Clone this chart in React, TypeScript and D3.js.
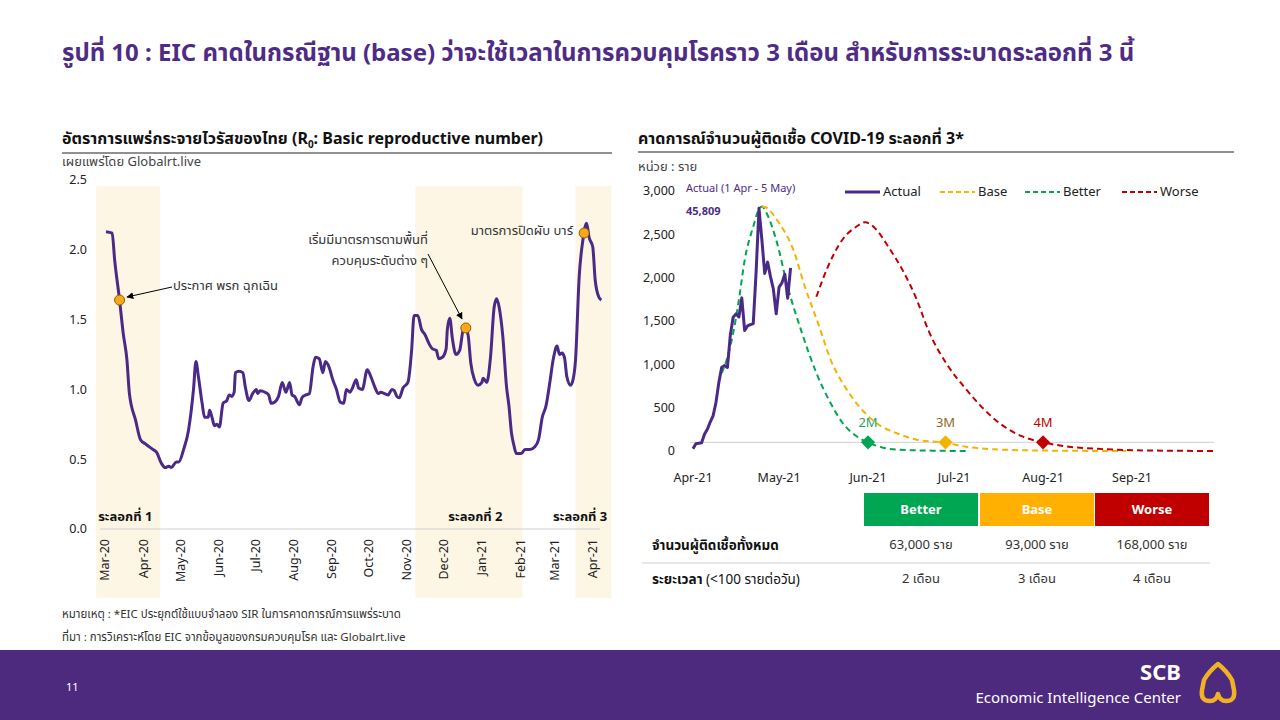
import React from "react";
import * as d3 from "d3";

// ---- data ----
const rtSeries: [string, number][] = [
  ["2020-03-01", 2.13], ["2020-03-06", 2.12], ["2020-03-08", 1.93], ["2020-03-12", 1.64], ["2020-03-15", 1.4],
  ["2020-03-18", 1.21], ["2020-03-20", 0.97], ["2020-03-25", 0.78], ["2020-03-29", 0.64], ["2020-04-02", 0.61],
  ["2020-04-08", 0.57], ["2020-04-11", 0.55], ["2020-04-15", 0.47], ["2020-04-18", 0.44], ["2020-04-21", 0.45],
  ["2020-04-23", 0.44], ["2020-04-27", 0.48], ["2020-04-29", 0.48], ["2020-05-03", 0.57], ["2020-05-07", 0.71],
  ["2020-05-11", 1.0], ["2020-05-13", 1.2], ["2020-05-15", 1.09], ["2020-05-18", 0.9], ["2020-05-20", 0.8],
  ["2020-05-23", 0.8], ["2020-05-24", 0.85], ["2020-05-26", 0.8], ["2020-05-28", 0.74], ["2020-05-30", 0.75],
  ["2020-06-01", 0.73], ["2020-06-04", 0.9], ["2020-06-07", 0.92], ["2020-06-09", 0.96], ["2020-06-11", 0.95],
  ["2020-06-13", 0.98], ["2020-06-14", 1.12], ["2020-06-17", 1.13], ["2020-06-20", 1.12], ["2020-06-22", 1.02],
  ["2020-06-25", 0.92], ["2020-06-28", 0.97], ["2020-07-01", 1.0], ["2020-07-02", 0.97], ["2020-07-04", 0.99],
  ["2020-07-08", 0.98], ["2020-07-11", 0.96], ["2020-07-13", 0.9], ["2020-07-16", 0.91], ["2020-07-19", 0.95],
  ["2020-07-22", 1.05], ["2020-07-25", 0.98], ["2020-07-28", 1.05], ["2020-07-30", 0.96], ["2020-08-01", 0.95],
  ["2020-08-05", 0.89], ["2020-08-07", 0.94], ["2020-08-10", 0.96], ["2020-08-13", 0.97], ["2020-08-16", 1.16],
  ["2020-08-18", 1.23], ["2020-08-21", 1.22], ["2020-08-24", 1.12], ["2020-08-26", 1.2], ["2020-08-29", 1.16],
  ["2020-09-01", 1.07], ["2020-09-04", 1.0], ["2020-09-07", 0.91], ["2020-09-10", 0.9], ["2020-09-12", 1.0],
  ["2020-09-15", 0.98], ["2020-09-17", 1.01], ["2020-09-20", 1.07], ["2020-09-22", 1.01], ["2020-09-25", 1.0],
  ["2020-09-29", 1.14], ["2020-10-02", 1.09], ["2020-10-05", 1.02], ["2020-10-08", 0.97], ["2020-10-10", 0.98],
  ["2020-10-13", 0.97], ["2020-10-16", 0.96], ["2020-10-19", 1.0], ["2020-10-21", 0.99], ["2020-10-23", 0.95],
  ["2020-10-25", 0.94], ["2020-10-28", 1.01], ["2020-11-01", 1.05], ["2020-11-04", 1.28], ["2020-11-06", 1.53],
  ["2020-11-09", 1.53], ["2020-11-12", 1.43], ["2020-11-15", 1.39], ["2020-11-18", 1.33], ["2020-11-21", 1.29],
  ["2020-11-24", 1.28], ["2020-11-26", 1.22], ["2020-11-29", 1.23], ["2020-12-02", 1.29], ["2020-12-03", 1.43],
  ["2020-12-05", 1.51], ["2020-12-07", 1.37], ["2020-12-10", 1.25], ["2020-12-13", 1.28], ["2020-12-16", 1.43],
  ["2020-12-18", 1.44], ["2020-12-20", 1.38], ["2020-12-22", 1.19], ["2020-12-25", 1.07], ["2020-12-28", 1.03],
  ["2020-12-31", 1.05], ["2021-01-01", 1.08], ["2021-01-04", 1.05], ["2021-01-07", 1.23], ["2021-01-10", 1.59],
  ["2021-01-12", 1.65], ["2021-01-14", 1.59], ["2021-01-17", 1.38], ["2021-01-20", 1.02], ["2021-01-22", 0.88],
  ["2021-01-24", 0.69], ["2021-01-26", 0.6], ["2021-01-28", 0.54], ["2021-02-01", 0.54], ["2021-02-04", 0.57],
  ["2021-02-08", 0.57], ["2021-02-12", 0.59], ["2021-02-15", 0.64], ["2021-02-18", 0.8], ["2021-02-21", 0.88],
  ["2021-02-24", 1.04], ["2021-02-27", 1.22], ["2021-03-02", 1.31], ["2021-03-04", 1.25], ["2021-03-06", 1.26],
  ["2021-03-08", 1.23], ["2021-03-10", 1.09], ["2021-03-13", 1.03], ["2021-03-15", 1.07], ["2021-03-17", 1.21],
  ["2021-03-20", 1.81], ["2021-03-23", 2.07], ["2021-03-26", 2.19], ["2021-03-28", 2.09], ["2021-03-31", 2.02],
  ["2021-04-02", 1.78], ["2021-04-05", 1.66], ["2021-04-07", 1.64],
];
const rtTicks = [0, 0.5, 1.0, 1.5, 2.0, 2.5];
const waveStarts = ["2020-02-22", "2020-11-07", "2021-03-17"];
const waveEnds = ["2020-04-14", "2021-02-02", "2021-04-15"];
const waveLabels = ["ระลอกที่ 1", "ระลอกที่ 2", "ระลอกที่ 3"];
const eventDates = ["2020-03-12", "2020-12-18", "2021-03-24"];
const eventValues = [1.64, 1.44, 2.12];

const actualDates = [
  "2021-04-01", "2021-04-02", "2021-04-03", "2021-04-04", "2021-04-05", "2021-04-06", "2021-04-07",
  "2021-04-08", "2021-04-09", "2021-04-10", "2021-04-11", "2021-04-12", "2021-04-13", "2021-04-14",
  "2021-04-15", "2021-04-16", "2021-04-17", "2021-04-18", "2021-04-19", "2021-04-20", "2021-04-21",
  "2021-04-22", "2021-04-23", "2021-04-24", "2021-04-25", "2021-04-26", "2021-04-27", "2021-04-28",
  "2021-04-29", "2021-04-30", "2021-05-01", "2021-05-02", "2021-05-03", "2021-05-04", "2021-05-05",
];
const actualValues = [
  26, 84, 89, 96, 194, 250, 334, 405, 559, 789, 967, 985, 965, 1335, 1543, 1582, 1547, 1767, 1390, 1443, 1458,
  1470, 2070, 2800, 2438, 2048, 2179, 2012, 1871, 1583, 1891, 1940, 2041, 1763, 2112,
];
const betterSeries: [string, number][] = [
  ["2021-04-11", 900], ["2021-04-13", 1080], ["2021-04-15", 1360], ["2021-04-17", 1745], ["2021-04-19", 2200],
  ["2021-04-22", 2590], ["2021-04-24", 2790], ["2021-04-25", 2820], ["2021-04-27", 2720], ["2021-04-30", 2435],
  ["2021-05-04", 1895], ["2021-05-09", 1360], ["2021-05-14", 900], ["2021-05-19", 550], ["2021-05-23", 330],
  ["2021-05-28", 170], ["2021-06-01", 100], ["2021-06-06", 40], ["2021-06-12", 15], ["2021-06-25", 3],
  ["2021-07-06", 0],
];
const baseSeries: [string, number][] = [
  ["2021-04-25", 2820], ["2021-04-26", 2815], ["2021-05-01", 2630], ["2021-05-06", 2320], ["2021-05-10", 1895],
  ["2021-05-15", 1435], ["2021-05-19", 1050], ["2021-05-24", 740], ["2021-05-29", 510], ["2021-06-04", 320],
  ["2021-06-11", 205], ["2021-06-18", 130], ["2021-06-28", 95], ["2021-07-05", 50], ["2021-07-15", 20],
  ["2021-08-01", 5], ["2021-08-30", 0],
];
const worseSeries: [string, number][] = [
  ["2021-05-14", 1780], ["2021-05-18", 2125], ["2021-05-23", 2435], ["2021-05-28", 2590], ["2021-05-31", 2640],
  ["2021-06-04", 2550], ["2021-06-08", 2360], ["2021-06-13", 2090], ["2021-06-18", 1745], ["2021-06-22", 1395],
  ["2021-06-29", 975], ["2021-07-05", 720], ["2021-07-10", 530], ["2021-07-15", 370], ["2021-07-20", 250],
  ["2021-07-25", 165], ["2021-08-01", 100], ["2021-08-10", 50], ["2021-08-20", 25], ["2021-09-01", 10],
  ["2021-09-15", 3], ["2021-09-30", 0],
];
const caseTicks = [0, 500, 1000, 1500, 2000, 2500, 3000];
const scenarioNames = ["Better", "Base", "Worse"];
const milestoneDates = ["2021-06-01", "2021-06-28", "2021-08-01"];
const milestoneValue = 100;
const milestoneLabels = ["2M", "3M", "4M"];
const totalCases = ["63,000 ราย", "93,000 ราย", "168,000 ราย"];
const durations = ["2 เดือน", "3 เดือน", "4 เดือน"];
const actualTotal = "45,809";

// ---- styles ----
const FONT = "'Noto Sans', 'Noto Sans Thai', Tahoma, sans-serif";
const PURPLE = "#4E2C85";
const LINE_PURPLE = "#4B2A87";
const ORANGE = "#F7A81B";
const GREEN = "#00A651";
const BASE_C = "#F5B301";
const RED = "#C00000";
const SHADE = "#FDF6E4";

const parse = d3.timeParse("%Y-%m-%d");
const fmtMonth = d3.timeFormat("%b-%y");

export default function App() {
  // left chart scales
  const xL = d3.scaleTime().domain([parse("2020-03-01")!, parse("2021-04-01")!]).range([106, 594]);
  const yL = d3.scaleLinear().domain([0, 2.5]).range([529, 180]);
  const rtLine = d3
    .line<[string, number]>()
    .x((d) => xL(parse(d[0])!))
    .y((d) => yL(d[1]))
    .curve(d3.curveMonotoneX);
  const monthsL = xL.ticks(d3.timeMonth.every(1)!);

  // right chart scales
  const xR = d3.scaleTime().domain([parse("2021-04-01")!, parse("2021-09-01")!]).range([693, 1132]);
  const yR = d3.scaleLinear().domain([0, 3000]).range([451, 191]);
  const fcLine = d3
    .line<[string, number]>()
    .x((d) => xR(parse(d[0])!))
    .y((d) => yR(d[1]))
    .curve(d3.curveMonotoneX);
  const actLine = d3
    .line<number>()
    .x((_, i) => xR(parse(actualDates[i])!))
    .y((d) => yR(d));
  const monthsR = xR.ticks(d3.timeMonth.every(1)!);
  const scenarioColors = [GREEN, BASE_C, RED];
  const labelColors = ["#2E9E6B", "#8C6A1C", RED];
  const series = [betterSeries, baseSeries, worseSeries];

  const bandTop = 186;
  const bandBottom = 598;

  // table geometry
  const colX = [864, 980, 1095];
  const colW = 114;

  const legend = [
    { name: "Actual", color: LINE_PURPLE, dash: "", x: 845 },
    { name: scenarioNames[1], color: BASE_C, dash: "5,3", x: 940 },
    { name: scenarioNames[0], color: GREEN, dash: "5,3", x: 1025 },
    { name: scenarioNames[2], color: RED, dash: "5,3", x: 1122 },
  ];

  return (
    <div style={{ position: "absolute", left: 0, top: 0 }}>
      <svg width={1280} height={720} style={{ display: "block", background: "#fff", fontFamily: FONT }}>
        <defs>
          <marker id="arr" viewBox="0 0 10 10" refX="9" refY="5" markerWidth="7" markerHeight="7" orient="auto">
            <path d="M0,0 L10,5 L0,10 z" fill="#000" />
          </marker>
        </defs>

        {/* title */}
        <text x={62} y={61} fontSize={24} fontWeight="bold" fill={PURPLE}>
          รูปที่ 10 : EIC คาดในกรณีฐาน (base) ว่าจะใช้เวลาในการควบคุมโรคราว 3 เดือน สำหรับการระบาดระลอกที่ 3 นี้
        </text>

        {/* ---------- left chart ---------- */}
        <text x={62} y={144} fontSize={16} fontWeight="bold" fill="#111">
          อัตราการแพร่กระจายไวรัสของไทย (R
          <tspan fontSize={10} dy={4}>0</tspan>
          <tspan dy={-4}>: Basic reproductive number)</tspan>
        </text>
        <line x1={62} x2={612} y1={153} y2={153} stroke="#222" strokeWidth={1} />
        <text x={62} y={166} fontSize={13} fill="#444">
          เผยแพร่โดย Globalrt.live
        </text>

        {waveStarts.map((s, i) => (
          <rect
            key={"band" + i}
            x={xL(parse(s)!)}
            y={bandTop}
            width={xL(parse(waveEnds[i])!) - xL(parse(s)!)}
            height={bandBottom - bandTop}
            fill={SHADE}
          />
        ))}

        {rtTicks.map((t) => (
          <text key={"yl" + t} x={87} y={yL(t) + 1} fontSize={12.5} textAnchor="end" dominantBaseline="middle" fill="#222">
            {d3.format(".1f")(t)}
          </text>
        ))}
        <line x1={100} x2={600} y1={yL(0)} y2={yL(0)} stroke="#d0d0d0" strokeWidth={1} />

        {monthsL.map((m, i) => (
          <text
            key={"xl" + i}
            transform={`translate(${xL(m)},${539}) rotate(-90)`}
            fontSize={12.5}
            textAnchor="end"
            dominantBaseline="middle"
            fill="#222"
          >
            {fmtMonth(m)}
          </text>
        ))}

        {waveLabels.map((w, i) => {
          const x0 = xL(parse(waveStarts[i])!);
          const x1 = xL(parse(waveEnds[i])!);
          const isFirst = i === 0;
          return (
            <text
              key={"wl" + i}
              x={isFirst ? x0 + 2 : i === 1 ? x1 - 20 : x1 - 4}
              y={521}
              fontSize={13}
              fontWeight="bold"
              textAnchor={isFirst ? "start" : "end"}
              fill="#111"
            >
              {w}
            </text>
          );
        })}

        <path d={rtLine(rtSeries) || ""} fill="none" stroke={LINE_PURPLE} strokeWidth={3} strokeLinejoin="round" />

        {/* annotations */}
        <line x1={172} y1={287} x2={127} y2={297} stroke="#000" strokeWidth={1} markerEnd="url(#arr)" />
        <text x={173} y={290} fontSize={13} fill="#333">ประกาศ พรก ฉุกเฉิน</text>
        <text x={428} y={244} fontSize={13} fill="#333" textAnchor="end">เริ่มมีมาตรการตามพื้นที่</text>
        <text x={428} y={265} fontSize={13} fill="#333" textAnchor="end">ควบคุมระดับต่าง ๆ</text>
        <line x1={428} y1={254} x2={462} y2={319} stroke="#000" strokeWidth={1} markerEnd="url(#arr)" />
        <text x={573} y={235} fontSize={13} fill="#333" textAnchor="end">มาตรการปิดผับ บาร์</text>

        {eventDates.map((d, i) => (
          <circle
            key={"ev" + i}
            cx={xL(parse(d)!)}
            cy={yL(eventValues[i])}
            r={5}
            fill={ORANGE}
            stroke="#9a5b00"
            strokeWidth={1}
          />
        ))}

        {/* ---------- right chart ---------- */}
        <text x={638} y={144} fontSize={16} fontWeight="bold" fill="#111">
          คาดการณ์จำนวนผู้ติดเชื้อ COVID-19 ระลอกที่ 3*
        </text>
        <line x1={638} x2={1234} y1={152} y2={152} stroke="#222" strokeWidth={1} />
        <text x={638} y={171} fontSize={13} fill="#444">
          หน่วย : ราย
        </text>

        {caseTicks.map((t) => (
          <text key={"yr" + t} x={675} y={yR(t) + 1} fontSize={12.5} textAnchor="end" dominantBaseline="middle" fill="#222">
            {d3.format(",")(t)}
          </text>
        ))}
        <line x1={690} x2={1214} y1={yR(milestoneValue)} y2={yR(milestoneValue)} stroke="#cfcfcf" strokeWidth={1} />

        {monthsR.map((m, i) => (
          <text key={"xr" + i} x={xR(m)} y={482} fontSize={12.5} textAnchor="middle" fill="#222">
            {fmtMonth(m)}
          </text>
        ))}

        {series.map((s, i) => (
          <path
            key={"fc" + i}
            d={fcLine(s) || ""}
            fill="none"
            stroke={scenarioColors[i]}
            strokeWidth={2}
            strokeDasharray="6,4"
          />
        ))}
        <path d={actLine(actualValues) || ""} fill="none" stroke={LINE_PURPLE} strokeWidth={3} strokeLinejoin="round" />

        {milestoneDates.map((d, i) => {
          const cx = xR(parse(d)!);
          const cy = yR(milestoneValue);
          return (
            <g key={"ms" + i}>
              <rect x={cx - 5} y={cy - 5} width={10} height={10} fill={scenarioColors[i]} transform={`rotate(45 ${cx} ${cy})`} />
              <text x={cx} y={cy - 15} fontSize={13} textAnchor="middle" fill={labelColors[i]}>
                {milestoneLabels[i]}
              </text>
            </g>
          );
        })}

        <text x={686} y={192} fontSize={11} fill={PURPLE}>Actual (1 Apr - 5 May)</text>
        <text x={686} y={215} fontSize={11} fontWeight="bold" fill={PURPLE}>{actualTotal}</text>

        {/* legend */}
        {legend.map((l) => (
          <g key={"lg" + l.name}>
            <line x1={l.x} x2={l.x + 35} y1={192} y2={192} stroke={l.color} strokeWidth={l.dash ? 2 : 3} strokeDasharray={l.dash} />
            <text x={l.x + 38} y={193} fontSize={13} dominantBaseline="middle" fill="#222">{l.name}</text>
          </g>
        ))}

        {/* table */}
        {scenarioNames.map((n, i) => (
          <g key={"th" + i}>
            <rect x={colX[i]} y={493} width={colW} height={33} fill={i === 1 ? "#FFB000" : scenarioColors[i]} />
            <text x={colX[i] + colW / 2} y={510} fontSize={13} fontWeight="bold" fill="#fff" textAnchor="middle" dominantBaseline="middle">
              {n}
            </text>
            <text x={colX[i] + colW / 2} y={546} fontSize={13} fill="#333" textAnchor="middle" dominantBaseline="middle">
              {totalCases[i]}
            </text>
            <text x={colX[i] + colW / 2} y={580} fontSize={13} fill="#333" textAnchor="middle" dominantBaseline="middle">
              {durations[i]}
            </text>
          </g>
        ))}
        <text x={652} y={546} fontSize={13.5} fontWeight="bold" fill="#111" dominantBaseline="middle">จำนวนผู้ติดเชื้อทั้งหมด</text>
        <line x1={642} x2={1210} y1={563} y2={563} stroke="#cfcfcf" strokeWidth={1} />
        <text x={652} y={580} fontSize={13.5} fill="#111" dominantBaseline="middle">
          <tspan fontWeight="bold">ระยะเวลา</tspan> (&lt;100 รายต่อวัน)
        </text>

        {/* notes */}
        <text x={62} y={618} fontSize={11.5} fill="#333">หมายเหตุ : *EIC ประยุกต์ใช้แบบจำลอง SIR ในการคาดการณ์การแพร่ระบาด</text>
        <text x={62} y={641} fontSize={11.5} fill="#333">ที่มา : การวิเคราะห์โดย EIC จากข้อมูลของกรมควบคุมโรค และ Globalrt.live</text>

        {/* footer */}
        <rect x={0} y={650} width={1280} height={70} fill="#4E2A7F" />
        <text x={66} y={691} fontSize={11} fill="#fff">11</text>
        <text x={1181} y={680} fontSize={22} fontWeight="bold" fill="#fff" textAnchor="end">SCB</text>
        <text x={1181} y={703} fontSize={15} fill="#fff" textAnchor="end">Economic Intelligence Center</text>
        <path
          d="M1210,701 C1203,701 1201,697 1202,690 L1204,680 C1208,673 1213,668 1218,664 C1223,668 1228,673 1232,680 L1234,690 C1235,697 1233,701 1226,701 C1222,701 1219,698 1218,694 C1217,698 1214,701 1210,701 Z"
          fill="none"
          stroke="#F2B124"
          strokeWidth={4.5}
          strokeLinejoin="round"
        />
      </svg>
    </div>
  );
}
